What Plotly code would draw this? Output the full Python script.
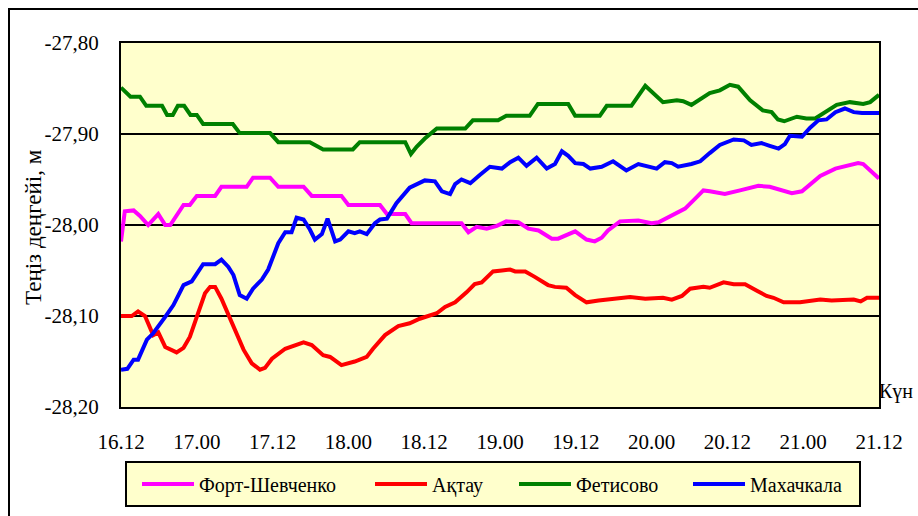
import plotly.graph_objects as go

# ---- data (hours from 16.12) ----
tick_vals = [0, 12, 24, 36, 48, 60, 72, 84, 96, 108, 120]
tick_text = ["16.12", "17.00", "17.12", "18.00", "18.12", "19.00", "19.12",
             "20.00", "20.12", "21.00", "21.12"]
y_ticks = [-28.2, -28.1, -28.0, -27.9, -27.8]
y_text = ["-28,20", "-28,10", "-28,00", "-27,90", "-27,80"]

h_fort = [0, 0.6, 2, 3, 4.3, 5.9, 7, 7.8, 9.9, 10.9, 12, 14.9, 15.9, 19.9, 20.9, 23.6,
          24.9, 28.9, 30.2, 34.9, 36, 41, 42.1, 45, 46, 53.9, 55, 56.3, 57.9, 59.5, 61,
          62.9, 64.5, 66.1, 68.2, 69.2, 71.9, 73.7, 75, 76.1, 77.1, 79, 81.9, 84, 85.1,
          86.7, 89.3, 90.9, 92.2, 93.2, 95.6, 98, 100.9, 102.7, 106.2, 107.8, 109.1,
          110.7, 113.1, 114.9, 116.7, 117.5, 120]
v_fort = [-28.018, -27.985, -27.984, -27.990, -28.000, -27.988, -28.000, -28.000, -27.978,
          -27.978, -27.968, -27.968, -27.958, -27.958, -27.948, -27.948, -27.958, -27.958,
          -27.968, -27.968, -27.978, -27.978, -27.988, -27.988, -27.998, -27.998, -28.008,
          -28.002, -28.004, -28.001, -27.996, -27.997, -28.004, -28.006, -28.015, -28.015,
          -28.007, -28.016, -28.018, -28.014, -28.006, -27.996, -27.995, -27.998, -27.997,
          -27.991, -27.982, -27.971, -27.962, -27.963, -27.966, -27.962, -27.957, -27.958,
          -27.965, -27.963, -27.956, -27.946, -27.938, -27.935, -27.932, -27.933, -27.949]

h_aktau = [0, 1.7, 2.7, 3.8, 5.1, 5.9, 7, 8.8, 9.9, 10.9, 12, 13.3, 14.1, 14.9, 15.9,
           17.8, 19.4, 20.7, 22, 22.8, 23.9, 26, 28.9, 30.2, 32, 33.1, 34.9, 37, 38.9,
           39.9, 41.8, 43.9, 45.7, 47.3, 50, 51.3, 52.9, 54.7, 56, 57.1, 58.9, 60.3, 61.6,
           62.4, 64, 65.5, 67.6, 68.7, 70.5, 71.9, 73.7, 75.6, 78.2, 80.6, 83, 84.8, 85.8,
           87.2, 88.8, 90.1, 92.2, 93.2, 95.4, 97, 98.8, 100.6, 102.2, 103.3, 104.9,
           107.5, 109.1, 110.7, 112.5, 114.9, 116, 117.1, 118.1, 120]
v_aktau = [-28.100, -28.100, -28.095, -28.100, -28.121, -28.118, -28.134, -28.140, -28.135,
           -28.123, -28.101, -28.075, -28.068, -28.068, -28.081, -28.110, -28.137, -28.152,
           -28.159, -28.157, -28.147, -28.136, -28.129, -28.132, -28.143, -28.145, -28.154,
           -28.150, -28.145, -28.136, -28.121, -28.111, -28.108, -28.103, -28.097, -28.090,
           -28.085, -28.074, -28.065, -28.063, -28.051, -28.050, -28.049, -28.051, -28.051,
           -28.057, -28.066, -28.068, -28.069, -28.077, -28.085, -28.083, -28.081, -28.079,
           -28.081, -28.081, -28.080, -28.082, -28.078, -28.070, -28.068, -28.069, -28.063,
           -28.065, -28.065, -28.072, -28.078, -28.080, -28.085, -28.085, -28.083, -28.082,
           -28.083, -28.083, -28.082, -28.084, -28.080, -28.080]

h_fet = [0, 1.5, 3, 4, 6.5, 7.3, 8.2, 9, 10, 11, 12, 13, 17.7, 18.8, 23.6, 24.9, 29.9,
         32, 36.7, 37.8, 45, 45.9, 46.8, 48.1, 50, 54.5, 55.7, 59.7, 61, 64.7, 66, 70.8,
         71.9, 75.8, 76.9, 80.8, 83, 85.8, 88, 89, 90.3, 91.7, 93.2, 94.8, 96.4, 97.7,
         99.6, 101.6, 103, 104, 105, 107, 108.5, 109.9, 111.7, 113.3, 115.4, 117.5,
         118.6, 120]
v_fet = [-27.849, -27.859, -27.859, -27.869, -27.869, -27.879, -27.879, -27.869, -27.869,
         -27.879, -27.879, -27.889, -27.889, -27.899, -27.899, -27.909, -27.909, -27.917,
         -27.917, -27.909, -27.909, -27.922, -27.914, -27.905, -27.894, -27.894, -27.885,
         -27.885, -27.880, -27.880, -27.867, -27.867, -27.880, -27.880, -27.869, -27.869,
         -27.847, -27.865, -27.863, -27.864, -27.868, -27.862, -27.855, -27.852, -27.846,
         -27.848, -27.863, -27.874, -27.876, -27.884, -27.886, -27.881, -27.883, -27.883,
         -27.875, -27.868, -27.865, -27.867, -27.865, -27.857]

h_mah = [0, 1, 2, 2.7, 4.1, 5.1, 7, 8.3, 9.1, 9.9, 11.2, 13, 14.9, 15.9, 17, 17.8, 18.8,
         19.9, 20.9, 22.3, 23.3, 24.9, 26, 27, 27.8, 28.9, 29.9, 30.7, 31.8, 32.7, 33.9,
         34.7, 36, 37, 37.8, 38.9, 40.2, 41, 42.1, 43.6, 45.7, 48.1, 49.7, 50.8, 52.1,
         52.9, 53.9, 55.3, 56.8, 58.4, 60.3, 61.6, 62.9, 64.2, 65.8, 67.4, 68.7, 69.8,
         70.8, 71.9, 73.2, 74.3, 76.1, 77.9, 80, 81.9, 84.8, 86.1, 87.2, 88.2, 90.3, 91.7,
         93.2, 94.8, 97, 98.6, 99.8, 101.4, 102.7, 104.1, 105.1, 105.9, 107.8, 109.1,
         110.4, 111.7, 113.1, 114.6, 116, 117.3, 120]
v_mah = [-28.159, -28.158, -28.148, -28.148, -28.126, -28.119, -28.101, -28.088, -28.077,
         -28.066, -28.062, -28.043, -28.043, -28.038, -28.046, -28.055, -28.077, -28.081,
         -28.070, -28.060, -28.049, -28.020, -28.008, -28.008, -27.992, -27.994, -28.005,
         -28.016, -28.010, -27.993, -28.018, -28.016, -28.007, -28.009, -28.007, -28.010,
         -27.998, -27.994, -27.993, -27.976, -27.959, -27.951, -27.952, -27.963, -27.966,
         -27.955, -27.950, -27.954, -27.945, -27.936, -27.938, -27.931, -27.926, -27.935,
         -27.926, -27.938, -27.933, -27.919, -27.924, -27.932, -27.933, -27.938, -27.936,
         -27.930, -27.940, -27.933, -27.938, -27.931, -27.932, -27.936, -27.933, -27.930,
         -27.921, -27.912, -27.906, -27.907, -27.912, -27.910, -27.913, -27.916, -27.911,
         -27.902, -27.903, -27.893, -27.885, -27.884, -27.876, -27.872, -27.876, -27.877,
         -27.877]

series = [
    ("Форт-Шевченко", h_fort, v_fort, "#FF00FF"),
    ("Ақтау", h_aktau, v_aktau, "#FF0000"),
    ("Фетисово", h_fet, v_fet, "#008000"),
    ("Махачкала", h_mah, v_mah, "#0000FF"),
]

FONT = "'Liberation Serif', 'Times New Roman', 'DejaVu Serif', serif"

# the page's body margin is removed (post_script below), so layout uses picture pixels
W, H = 918, 516
L, T = 121, 43
pw, ph = 758, 364
R = W - L - pw
B = H - T - ph


def px_x(p):
    return (p - L) / pw


def px_y(p):
    return (H - B - p) / ph


legend_keys = ["legend", "legend2", "legend3", "legend4"]
legend_line_start = [145, 378, 522, 696]

fig = go.Figure()
for (name, hx, vy, col), lk in zip(series, legend_keys):
    fig.add_trace(go.Scatter(x=hx, y=vy, mode="lines", name=name, legend=lk,
                             line=dict(color=col, width=4)))

legend_layout = {}
for lk, xs in zip(legend_keys, legend_line_start):
    legend_layout[lk] = dict(
        orientation="h",
        x=px_x(xs - 8), y=px_y(484), xanchor="left", yanchor="middle",
        bgcolor="rgba(0,0,0,0)", borderwidth=0,
        font=dict(family=FONT, size=20, color="black"),
        itemwidth=52,
    )

fig.update_layout(
    width=W, height=H,
    margin=dict(l=L, r=R, t=T, b=B, autoexpand=False),
    paper_bgcolor="white",
    plot_bgcolor="#FFFFCC",
    font=dict(family=FONT, size=21, color="black"),
    showlegend=True,
    xaxis=dict(
        range=[0, 120], tickvals=tick_vals, ticktext=tick_text,
        showgrid=False, zeroline=False, ticks="",
        showline=True, linecolor="black", linewidth=2, mirror=True,
        ticklabelstandoff=15,
        tickfont=dict(family=FONT, size=21, color="black"),
    ),
    yaxis=dict(
        range=[-28.2, -27.8], tickvals=y_ticks, ticktext=y_text,
        showgrid=True, gridcolor="black", gridwidth=1.5, zeroline=False, ticks="",
        showline=True, linecolor="black", linewidth=2, mirror=True,
        ticklabelstandoff=16,
        tickfont=dict(family=FONT, size=21, color="black"),
    ),
    shapes=[
        dict(type="rect", xref="paper", yref="paper",
             x0=px_x(9), x1=px_x(940), y0=px_y(540), y1=px_y(9),
             line=dict(color="black", width=2), fillcolor="rgba(0,0,0,0)", layer="below"),
        dict(type="rect", xref="paper", yref="paper",
             x0=px_x(126), x1=px_x(860), y0=px_y(506), y1=px_y(462),
             line=dict(color="black", width=2), fillcolor="#FFFFCC", layer="above"),
    ],
    annotations=[
        dict(text="Теңіз деңгейі, м", xref="paper", yref="paper",
             x=px_x(33), y=px_y(227), textangle=-90, showarrow=False,
             xanchor="center", yanchor="middle",
             font=dict(family=FONT, size=23, color="black")),
        dict(text="Күн", xref="paper", yref="paper",
             x=px_x(877), y=px_y(391), showarrow=False,
             xanchor="left", yanchor="middle",
             font=dict(family=FONT, size=20, color="black")),
    ],
)
fig.update_layout(**legend_layout)

fig.write_html(
    "out.html",
    config={"displayModeBar": False},
    post_script="document.body.style.margin='0px';document.body.style.overflow='hidden';",
)
